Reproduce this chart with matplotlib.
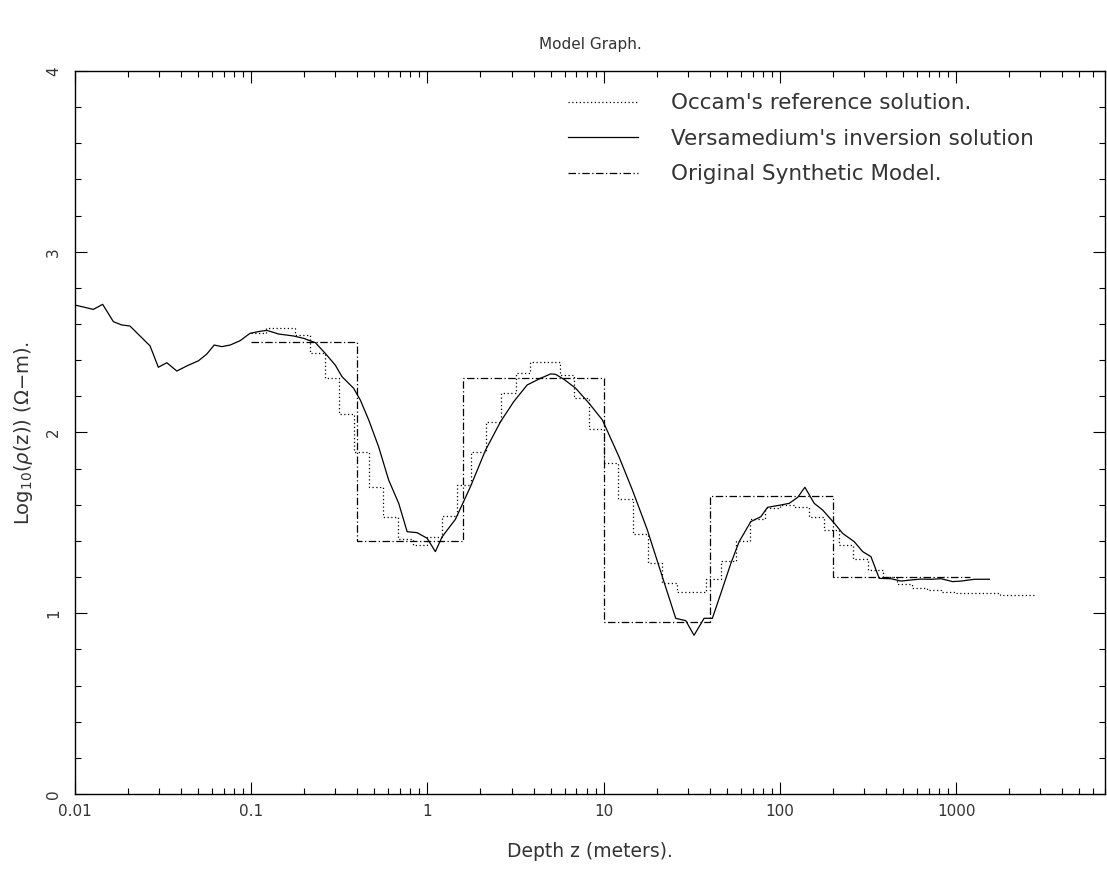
import matplotlib
matplotlib.use("Agg")
import matplotlib.pyplot as plt
import numpy as np
from matplotlib.ticker import FixedLocator, LogLocator, MultipleLocator, NullFormatter

# Versamedium inversion (solid): log10 depth, log10 resistivity
vers_log_z = [
    -2.000, -1.943, -1.896, -1.843, -1.782, -1.735, -1.688, -1.631, -1.574, -1.527,
    -1.479, -1.422, -1.366, -1.299, -1.252, -1.210, -1.167, -1.119, -1.063, -1.006,
    -0.949, -0.911, -0.845, -0.760, -0.703, -0.636, -0.580, -0.523, -0.485, -0.419,
    -0.381, -0.333, -0.277, -0.220, -0.163, -0.115, -0.059, -0.002, 0.045, 0.084,
    0.159, 0.244, 0.330, 0.415, 0.490, 0.566, 0.642, 0.699, 0.727, 0.775,
    0.841, 0.917, 0.993, 1.087, 1.163, 1.248, 1.333, 1.409, 1.466, 1.513,
    1.570, 1.617, 1.665, 1.722, 1.769, 1.835, 1.892, 1.930, 2.006, 2.053,
    2.101, 2.142, 2.195, 2.243, 2.309, 2.356, 2.422, 2.470, 2.517, 2.564,
    2.631, 2.688, 2.744, 2.801, 2.858, 2.915, 2.981, 3.028, 3.104, 3.189,
]
vers_rho = [
    2.705, 2.692, 2.681, 2.709, 2.613, 2.595, 2.589, 2.534, 2.479, 2.361,
    2.386, 2.340, 2.368, 2.397, 2.434, 2.484, 2.475, 2.484, 2.508, 2.549,
    2.560, 2.565, 2.545, 2.534, 2.521, 2.497, 2.438, 2.373, 2.309, 2.245,
    2.180, 2.069, 1.921, 1.737, 1.608, 1.451, 1.446, 1.415, 1.341, 1.424,
    1.520, 1.700, 1.903, 2.060, 2.171, 2.263, 2.300, 2.324, 2.322, 2.294,
    2.245, 2.162, 2.069, 1.866, 1.682, 1.461, 1.202, 0.972, 0.959, 0.878,
    0.972, 0.972, 1.110, 1.276, 1.396, 1.507, 1.534, 1.586, 1.599, 1.608,
    1.641, 1.697, 1.608, 1.571, 1.498, 1.442, 1.396, 1.341, 1.313, 1.193,
    1.191, 1.178, 1.184, 1.189, 1.188, 1.191, 1.175, 1.178, 1.188, 1.188,
]

# Occam reference (dotted staircase): layer edges (log10 depth) and values
occam_log_edges = [
    -1.000, -0.917, -0.833, -0.750, -0.667, -0.583, -0.500, -0.417, -0.333, -0.250,
    -0.167, -0.083, 0.000, 0.083, 0.167, 0.250, 0.333, 0.417, 0.500, 0.583,
    0.667, 0.750, 0.833, 0.917, 1.000, 1.083, 1.167, 1.250, 1.333, 1.417,
    1.500, 1.583, 1.667, 1.750, 1.833, 1.917, 2.000, 2.083, 2.167, 2.250,
    2.333, 2.417, 2.500, 2.583, 2.667, 2.750, 2.833, 2.917, 3.000, 3.083,
    3.167, 3.250, 3.333, 3.417, 3.450,
]
occam_rho = [
    2.55, 2.58, 2.58, 2.54, 2.44, 2.30, 2.10, 1.89, 1.70, 1.53,
    1.41, 1.38, 1.42, 1.54, 1.71, 1.89, 2.06, 2.22, 2.33, 2.39,
    2.39, 2.32, 2.19, 2.02, 1.83, 1.63, 1.44, 1.28, 1.17, 1.12,
    1.12, 1.19, 1.29, 1.40, 1.52, 1.58, 1.60, 1.59, 1.53, 1.46,
    1.38, 1.30, 1.24, 1.20, 1.16, 1.14, 1.13, 1.12, 1.11, 1.11,
    1.11, 1.10, 1.10, 1.10,
]

# Original synthetic model (dash-dot): layer boundaries in metres
model_edges = [0.1, 0.4, 1.6, 10, 40, 200, 1200]
model_rho = [2.5, 1.4, 2.3, 0.95, 1.65, 1.2]

x_ticks = [0.01, 0.1, 1, 10, 100, 1000]
x_ticklabels = ["0.01", "0.1", "1", "10", "100", "1000"]
y_ticks = [0, 1, 2, 3, 4]

fig = plt.figure(figsize=(11.07, 8.73), dpi=100)
ax = fig.add_axes([75 / 1107, 1 - 794 / 873, 1030 / 1107, 723 / 873])

lw = 0.9
ax.stairs(
    occam_rho,
    10 ** np.array(occam_log_edges),
    baseline=None,
    color="black",
    linewidth=lw,
    linestyle=(0, (1, 2)),
    label="Occam's reference solution.",
)
ax.plot(
    10 ** np.array(vers_log_z),
    vers_rho,
    color="black",
    linewidth=lw,
    label="Versamedium's inversion solution",
)
ax.stairs(
    model_rho,
    model_edges,
    baseline=None,
    color="black",
    linewidth=lw,
    linestyle=(0, (6, 2, 1, 2)),
    label="Original Synthetic Model.",
)

ax.set_xscale("log")
ax.set_xlim(0.01, 7000)
ax.set_ylim(0, 4)

ax.xaxis.set_major_locator(FixedLocator(x_ticks))
ax.set_xticklabels(x_ticklabels)
ax.xaxis.set_minor_locator(LogLocator(base=10, subs=np.arange(2, 10)))
ax.xaxis.set_minor_formatter(NullFormatter())
ax.yaxis.set_major_locator(FixedLocator(y_ticks))
ax.yaxis.set_minor_locator(MultipleLocator(0.2))

ax.tick_params(which="both", direction="in", top=True, right=True, width=0.8,
               colors="black", labelcolor="#333333")
ax.tick_params(which="major", length=8.5)
ax.tick_params(which="minor", length=4.5)
ax.tick_params(axis="x", labelsize=11, pad=7)
ax.tick_params(axis="y", labelsize=11, pad=10, labelrotation=90)
for lbl in ax.get_yticklabels():
    lbl.set_va("center")

for sp in ax.spines.values():
    sp.set_linewidth(1.0)

ax.set_xlabel("Depth z (meters).", fontsize=13.5, labelpad=17, color="#333333")
ax.set_ylabel(r"Log$_{10}$($\rho$(z)) ($\Omega$$-$m).", fontsize=14,
              labelpad=8, color="#333333")
ax.set_title("Model Graph.", fontsize=11, pad=16, color="#333333")

ax.legend(
    loc="upper left",
    bbox_to_anchor=(0.4786, 0.969),
    frameon=False,
    fontsize=15.5,
    handlelength=3.25,
    handletextpad=1.55,
    labelspacing=0.72,
    borderpad=0,
    borderaxespad=0,
    labelcolor="#333333",
)

fig.savefig("out.png", dpi=100)
